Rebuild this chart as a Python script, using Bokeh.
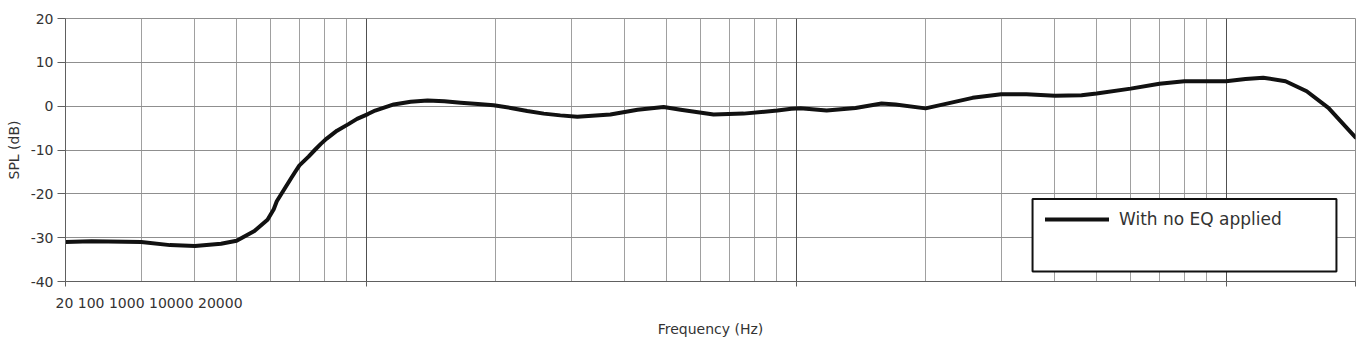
from bokeh.plotting import figure
from bokeh.models import (Range1d, FixedTicker, Grid, Legend, LegendItem, Title,
                          BoxAnnotation)
from bokeh.embed import file_html
from bokeh.resources import INLINE

# ---- data ----
freq_hz = [20, 23, 30, 35, 40, 46, 50, 55, 59, 61, 62, 67, 68.5, 70, 73.5, 76,
           78.5, 81, 85.6, 91, 95.3, 101, 105, 116, 127, 139, 152, 166, 182, 198,
           217, 237, 259, 283, 310, 370, 428, 492, 539, 643, 755, 905,
           975, 1024, 1178, 1375, 1581, 1703, 2000, 2203, 2573, 3000, 3435, 4000,
           4612, 5000, 6000, 7000, 8000, 9000, 10000, 11100, 12200, 13750, 15400,
           17300, 20000]
spl_db = [-31.0, -30.8, -31.0, -31.7, -31.9, -31.4, -30.7, -28.5, -25.9, -23.5,
          -21.7, -16.4, -14.9, -13.5, -11.5, -10.0,
          -8.6, -7.4, -5.6, -4.1, -2.9, -1.8, -1.0, 0.4, 1.0, 1.3, 1.1, 0.8, 0.5, 0.2,
          -0.4, -1.1, -1.7, -2.1, -2.4, -1.9, -0.8, -0.2, -0.8, -1.9, -1.7, -1.0,
          -0.6, -0.5, -1.0, -0.4, 0.6, 0.4, -0.5, 0.4, 1.9, 2.7, 2.7, 2.4,
          2.5, 2.9, 4.0, 5.1, 5.7, 5.7, 5.7, 6.2, 6.5, 5.7, 3.4,
          -0.4, -7.1]

x_ticks = [20, 100, 1000, 10000, 20000]
x_tick_labels = ["20", "100", "1000", "10000", "20000"]
x_major_grid = [100, 1000, 10000]
x_minor_grid = [30, 40, 50, 60, 70, 80, 90,
                200, 300, 400, 500, 600, 700, 800, 900,
                2000, 3000, 4000, 5000, 6000, 7000, 8000, 9000]
y_ticks = [-40, -30, -20, -10, 0, 10, 20]
y_tick_labels = ["-40", "-30", "-20", "-10", "0", "10", "20"]
series_name = "With no EQ applied"
x_title = "Frequency (Hz)"
y_title = "SPL (dB)"

FONT = "DejaVu Sans"
TXT = "#333333"
AX = "#606060"

p = figure(width=1359, height=343, x_axis_type="log",
           x_range=Range1d(20, 20000), y_range=Range1d(-40, 20),
           output_backend="svg", toolbar_location=None,
           min_border_left=65, min_border_right=4, min_border_top=18,
           min_border_bottom=62, background_fill_color="white",
           border_fill_color="white")
p.outline_line_color = "#8f8f8f"
p.outline_line_width = 1

# grids
p.xgrid[0].ticker = FixedTicker(ticks=x_minor_grid)
p.xgrid[0].grid_line_color = "#a0a0a0"
p.xgrid[0].grid_line_width = 1
p.add_layout(Grid(dimension=0, ticker=FixedTicker(ticks=x_major_grid),
                  grid_line_color="#505050", grid_line_width=1))
p.ygrid[0].ticker = FixedTicker(ticks=y_ticks)
p.ygrid[0].grid_line_color = "#8f8f8f"
p.ygrid[0].grid_line_width = 1

# y axis
ya = p.yaxis[0]
ya.ticker = FixedTicker(ticks=y_ticks)
ya.major_label_overrides = {t: s for t, s in zip(y_ticks, y_tick_labels)}
ya.minor_tick_line_color = None
ya.major_tick_in = 0
ya.major_tick_out = 8
ya.major_label_standoff = 4
ya.axis_line_color = AX
ya.major_tick_line_color = AX
ya.major_label_text_font = FONT
ya.major_label_text_font_size = "14px"
ya.major_label_text_color = TXT
ya.axis_label = y_title
ya.axis_label_text_font = FONT
ya.axis_label_text_font_size = "14px"
ya.axis_label_text_font_style = "normal"
ya.axis_label_text_color = TXT
ya.axis_label_standoff = 6

# x axis: tick marks only; the tick labels appear squeezed together at the left
xa = p.xaxis[0]
xa.ticker = FixedTicker(ticks=[], minor_ticks=x_ticks)
xa.minor_tick_in = 0
xa.minor_tick_out = 5
xa.minor_tick_line_color = AX
xa.major_tick_line_color = AX
xa.axis_line_color = AX

p.add_layout(Title(text=" ".join(x_tick_labels), align="left", offset=-10,
                   vertical_align="middle", standoff=15,
                   text_font=FONT, text_font_size="14px",
                   text_font_style="normal", text_color=TXT), "below")
p.add_layout(Title(text=x_title, align="center", vertical_align="middle",
                   standoff=0, text_font=FONT, text_font_size="14px",
                   text_font_style="normal", text_color=TXT), "below")

# curve
r = p.line(freq_hz, spl_db, line_color="#111111", line_width=4,
           line_join="round", line_cap="round")

# legend frame
p.add_layout(BoxAnnotation(left=3548, right=18060, top=-21.2, bottom=-37.7,
                           fill_color="white", fill_alpha=1.0,
                           line_color="#111111", line_alpha=1.0, line_width=2,
                           level="annotation"))
legend = Legend(items=[LegendItem(label=series_name, renderers=[r])],
                location=(980, 52), glyph_width=64, glyph_height=20,
                label_standoff=10, padding=0, margin=0,
                border_line_alpha=0, background_fill_alpha=0,
                label_text_font=FONT, label_text_font_size="17px",
                label_text_color=TXT)
p.add_layout(legend)

open("out.html", "w").write(file_html(p, INLINE))
